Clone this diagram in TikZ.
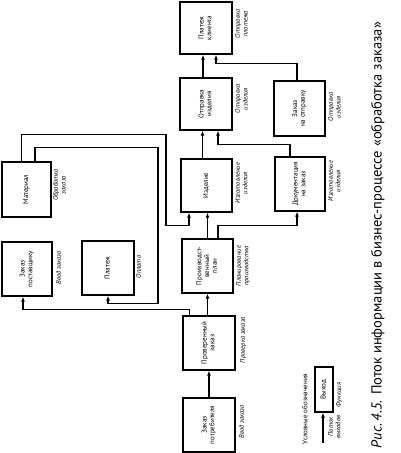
\documentclass[tikz,border=0pt]{standalone}
\usepackage{fontspec}
\setmainfont{PT Sans}
\usetikzlibrary{arrows.meta,calc}
\newcommand{\rottext}[1]{\rotatebox{90}{\begin{tabular}{@{}c@{}}#1\end{tabular}}}
\begin{document}
\begin{tikzpicture}[x=1pt,y=-1pt,
  box/.style={draw, line width=1.1pt, inner sep=0pt, font=\fontsize{7}{7.8}\selectfont},
  lab/.style={rotate=90, anchor=north, inner sep=0pt, align=center, font=\fontsize{6.6}{7.6}\selectfont\itshape},
  arr/.style={line width=1.1pt, -{Latex[length=5pt,width=3.8pt]}}]
\fill[white] (0,0) rectangle (401,453);
\useasboundingbox (0,0) rectangle (401,453);
% boxes
\node[box, minimum width=52pt, minimum height=52pt] (pk) at (206,28) {\rottext{Платеж\\клиента}};
\node[box, minimum width=52pt, minimum height=52pt] (oi) at (206,104) {\rottext{Отправка\\изделия}};
\node[box, minimum width=51pt, minimum height=53pt] (iz) at (206.5,185.5) {\rottext{Изделие}};
\node[box, minimum width=51pt, minimum height=54pt] (pp) at (207.5,266) {\rottext{Производст-\\венный\\план}};
\node[box, minimum width=52pt, minimum height=54pt] (pz) at (209,343) {\rottext{Проверенный\\заказ}};
\node[box, minimum width=52pt, minimum height=54pt] (zp) at (209,425) {\rottext{Заказ\\потребителя}};
\node[box, minimum width=51pt, minimum height=55pt] (zo) at (299.5,108.5) {\rottext{Заказ\\на отправку}};
\node[box, minimum width=50pt, minimum height=54pt] (dz) at (300,184) {\rottext{Документация\\на заказ}};
\node[box, minimum width=49pt, minimum height=55pt] (mat) at (26.5,189.5) {\rottext{Материал}};
\node[box, minimum width=50pt, minimum height=54pt] (zpos) at (27,269) {\rottext{Заказ\\поставщику}};
\node[box, minimum width=52pt, minimum height=54pt] (pl) at (108,268) {\rottext{Платеж}};
\node[box, minimum width=18pt, minimum height=45pt] (vyh) at (324,389.5) {\rottext{Выход}};
% function labels
\node[lab] (lpk) at (235,24) {Отправка\\платежа};
\node[lab] (loi) at (235,99) {Отправка\\изделия};
\node[lab] (liz) at (235,183) {Изготовление\\изделия};
\node[lab] (lpp) at (236,266) {Планирование\\производства};
\node[lab] (lpz) at (240,340) {Проверка заказа};
\node[lab] (lzp) at (239,422) {Ввод заказа};
\node[lab] (lzo) at (328,107) {Отправка\\изделия};
\node[lab] (ldz) at (328,181) {Изготовление\\изделия};
\node[lab] (lmat) at (53,185) {Обработка\\заказа};
\node[lab] (lzpos) at (56,268) {Ввод заказа};
\node[lab] (lpl) at (136,267) {Оплата};
% connectors
\draw[arr] (zp.north) -- (zp.north |- pz.south);
\draw[arr] (pz.north -| pp) -- (pp.south);
\draw[arr] ([xshift=7pt]pz.north west) -- ++(0,-6) -| ([xshift=-4pt]zpos.south);
\draw[arr] (pp.north) -- (pp.north |- iz.south);
\draw[arr] ([xshift=10.5pt]pp.north) -- ++(0,-13) -| ([xshift=-3pt]dz.south);
\draw[arr] ([xshift=-5pt]mat.north) -- ++(0,-27) -- ++(144.5,0) -- ++(0,91) -| ([xshift=-17.5pt]iz.south);
\draw[arr] ([xshift=8.5pt]mat.north) -- ++(0,-14) -- ++(123,0) -- ++(0,156) -| (pl.south);
\draw[arr] ([xshift=-4pt]iz.north) -- ([xshift=-4pt]iz.north |- oi.south);
\draw[arr] ([xshift=-10pt]dz.north) -- ++(0,-12) -| ([xshift=12pt]oi.south);
\draw[arr] ([xshift=-3pt]oi.north) -- ([xshift=-3pt]oi.north |- pk.south);
\draw[arr] ([xshift=-2.5pt]zo.north) -- ++(0,-17) -| ([xshift=10pt]pk.south);
% legend
\node[lab, font=\fontsize{7}{8}\selectfont] (leg) at (302,409) {Условные обозначения};
\coordinate (legst) at (323,443);
\draw[arr] (legst) -- (legst |- vyh.south);
\node[lab] (lpot) at (328,427) {Поток\\выходов};
\node[lab] (lfun) at (336,395) {Функция};
% caption
\node[rotate=90, anchor=north, inner sep=0pt, font=\fontsize{14.5}{16}\selectfont] (cap) at (371,235) {\textit{Рис.\,4.5.} Поток информации в бизнес-процессе «обработка заказа»};
\end{tikzpicture}
\end{document}
